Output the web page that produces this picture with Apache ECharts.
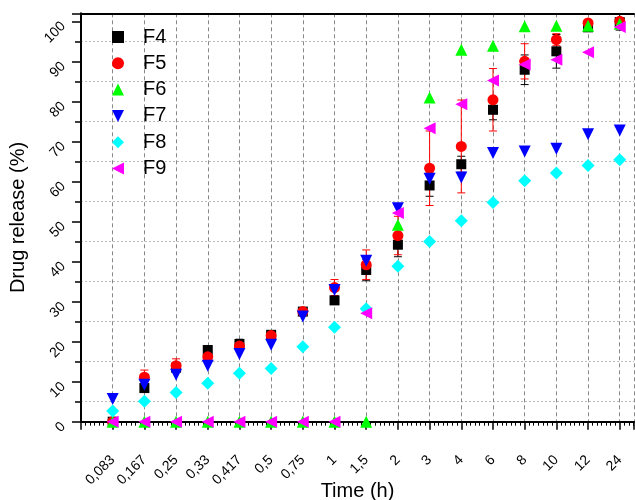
<!DOCTYPE html>
<html>
<head>
<meta charset="utf-8">
<script src="https://cdn.jsdelivr.net/npm/echarts@6/dist/echarts.min.js"></script>
<style>html,body{margin:0;padding:0;background:#fff}#c{width:635px;height:500px}</style>
</head>
<body>
<div id="c"></div>
<script>
const categories = ['0,083','0,167','0,25','0,33','0,417','0,5','0,75','1','1,5','2','3','4','6','8','10','12','24'];
const yTicks = [0,10,20,30,40,50,60,70,80,90,100];
const f4 = [0, 8.4, 13.5, 17.9, 19.4, 21.7, 27.5, 30.3, 37.9, 44.2, 59, 64.3, 77.9, 87.9, 92.5, 98.5, 99.8];
const f4Err = [0, 1, 1, 1, 1.2, 0.8, 0.8, 1, 2.7, 3, 2.7, 2, 2.5, 3.7, 4.2, 1, 2];
const f5 = [0, 11.1, 14, 16.2, 18.9, 21.5, 27.5, 33.5, 39.2, 46.5, 63.3, 68.75, 80.4, 90, 95.4, 99.6, 100];
const f5Err = [0, 1.8, 1.7, 1, 1, 1, 1, 2, 3.7, 4.8, 9.3, 11.6, 7.8, 4.4, 1.5, 0.5, 0.5];
const f6 = [0, 0, 0, 0, 0, 0, 0, 0, 0, 49.2, 81, 92.9, 93.9, 98.75, 98.9, 98.9, 99.4];
const f7 = [5.7, 9.2, 11.7, 14, 16.9, 19.2, 26.25, 32.9, 40.2, 53.3, 60.7, 61, 67.1, 67.5, 68.2, 71.8, 72.7];
const f8 = [2.7, 5.1, 7.3, 9.6, 12.1, 13.3, 18.75, 23.6, 28.2, 38.8, 45, 50.2, 54.75, 60.2, 62.1, 64, 65.4];
const f9 = [0, 0, 0, 0, 0, 0, 0, 0, 27.1, 52.1, 73.3, 79.3, 85.2, 89.2, 90.4, 92.3, 98.6];

const FONT = 'Liberation Sans, Arial, sans-serif';
const chart = echarts.init(document.getElementById('c'));

function pts(arr) { return arr.map((v, i) => [i, v]); }
function errData(vals, errs) { return vals.map((v, i) => [i, v - errs[i], v + errs[i]]); }
function errSeries(vals, errs, color) {
  return {
    type: 'custom',
    xAxisIndex: 0,
    yAxisIndex: 0,
    silent: true,
    data: errData(vals, errs),
    renderItem: function (params, api) {
      const x = api.value(0);
      const lo = api.coord([x, api.value(1)]);
      const hi = api.coord([x, api.value(2)]);
      const hw = 4;
      const st = { stroke: color, lineWidth: 1 };
      return {
        type: 'group',
        children: [
          { type: 'line', shape: { x1: lo[0], y1: lo[1], x2: hi[0], y2: hi[1] }, style: st },
          { type: 'line', shape: { x1: lo[0] - hw, y1: lo[1], x2: lo[0] + hw, y2: lo[1] }, style: st },
          { type: 'line', shape: { x1: hi[0] - hw, y1: hi[1], x2: hi[0] + hw, y2: hi[1] }, style: st }
        ]
      };
    }
  };
}
function sc(name, arr, color, symbol, size, rot) {
  return {
    name: name, type: 'scatter', data: pts(arr), symbol: symbol, symbolSize: size,
    symbolRotate: rot || 0, itemStyle: { color: color, opacity: 1 },
    emphasis: { disabled: true }
  };
}

chart.setOption({
  animation: false,
  backgroundColor: '#fff',
  textStyle: { fontFamily: FONT },
  grid: { left: 81, right: 1, top: 13.3, bottom: 78.3, containLabel: false, outerBoundsMode: 'none' },
  legend: {
    orient: 'vertical', left: 107, top: 22, itemWidth: 12, itemHeight: 12, itemGap: 6.3,
    symbolKeepAspect: true,
    textStyle: { fontSize: 20, color: '#000', fontFamily: FONT, padding: [0, 0, 0, 14] },
    data: [
      { name: 'F4', icon: 'rect' },
      { name: 'F5', icon: 'circle' },
      { name: 'F6', icon: 'triangle' },
      { name: 'F7', icon: 'path://M0,0 L10,0 L5,10 Z' },
      { name: 'F8', icon: 'diamond' },
      { name: 'F9', icon: 'path://M10,0 L10,10 L0,5 Z' }
    ]
  },
  xAxis: [{
    type: 'value', min: -1, max: 16.45, interval: 1,
    name: 'Time (h)', nameLocation: 'middle', nameGap: 60, nameMoveOverlap: false,
    nameTextStyle: { fontSize: 20, color: '#000', fontFamily: FONT },
    axisLine: { onZero: false, lineStyle: { color: '#000', width: 2 } },
    axisTick: { show: true, length: 8, lineStyle: { color: '#000', width: 1.5 } },
    minorTick: { show: true, splitNumber: 7, length: 4, lineStyle: { color: '#000', width: 1 } },
    splitLine: { show: true, lineStyle: { color: '#888', type: [4, 3], width: 1 } },
    axisLabel: {
      rotate: 45, margin: 36, fontSize: 14, color: '#000', fontFamily: FONT,
      showMinLabel: true, showMaxLabel: true,
      formatter: function (v) { const i = Math.round(v); return (Math.abs(v - i) < 1e-6 && i >= 0 && i < categories.length) ? categories[i] : ''; }
    }
  }, {
    type: 'value', position: 'top', min: -1, max: 16.45,
    axisLine: { show: true, onZero: false, lineStyle: { color: '#000', width: 2 } },
    axisTick: { show: false }, axisLabel: { show: false }, splitLine: { show: false }
  }],
  yAxis: {
    type: 'value', min: 0, max: 102, interval: 10,
    name: 'Drug release (%)', nameLocation: 'middle', nameGap: 53, nameMoveOverlap: false,
    nameTextStyle: { fontSize: 20, color: '#000', fontFamily: FONT },
    axisLine: { show: true, onZero: false, lineStyle: { color: '#000', width: 2 } },
    axisTick: { show: true, length: 9, lineStyle: { color: '#000', width: 1.5 } },
    minorTick: { show: true, splitNumber: 2, length: 6, lineStyle: { color: '#000', width: 1.5 } },
    splitLine: { show: false },
    minorSplitLine: { show: true, lineStyle: { color: '#bbb', type: [2, 2], width: 1 } },
    axisLabel: {
      rotate: 45, margin: 15, fontSize: 14, color: '#000', fontFamily: FONT, padding: [10, 4, 0, 0],
      formatter: function (v) { return yTicks.indexOf(v) >= 0 ? String(v) : ''; }
    }
  },
  series: [
    errSeries(f4, f4Err, '#000'),
    sc('F4', f4, '#000000', 'rect', 10),
    errSeries(f5, f5Err, '#ff0000'),
    sc('F5', f5, '#ff0000', 'circle', 11),
    sc('F6', f6, '#00ff00', 'triangle', 12),
    sc('F7', f7, '#0000ff', 'triangle', 12, 180),
    sc('F8', f8, '#00ffff', 'diamond', 13),
    sc('F9', f9, '#ff00ff', 'triangle', 12, 90)
  ]
});
</script>
</body>
</html>
